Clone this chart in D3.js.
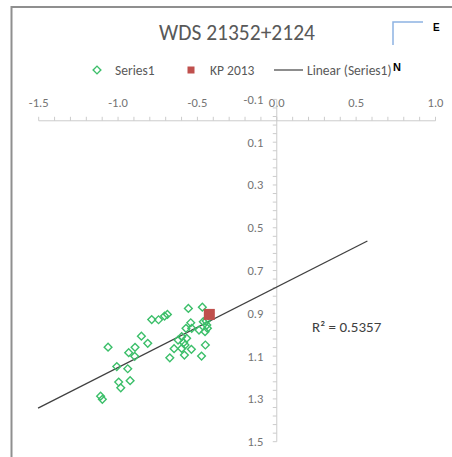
<!DOCTYPE html>
<html>
<head>
<meta charset="utf-8">
<script src="https://cdn.jsdelivr.net/npm/d3@7"></script>
<style>
  html, body { margin: 0; padding: 0; background: #fff; }
  svg { display: block; font-family: Carlito, Lato, sans-serif; }
</style>
</head>
<body>
<div id="chart"></div>
<script>
// Series1 (green diamonds)
var seriesX = [-1.063, -1.008, -0.939, -0.933, -0.893, -0.895, -0.853, -0.813, -0.788, -0.745,
               -0.707, -0.689, -0.996, -0.983, -0.924, -1.110, -1.099, -0.674, -0.647, -0.622,
               -0.599, -0.587, -0.599, -0.582, -0.538, -0.568, -0.578, -0.557, -0.572, -0.542,
               -0.536, -0.490, -0.469, -0.463, -0.441, -0.437, -0.452, -0.450, -0.474, -0.445];
var seriesY = [1.058, 1.149, 1.159, 1.084, 1.059, 1.101, 1.007, 1.040, 0.929, 0.930,
               0.913, 0.905, 1.221, 1.248, 1.215, 1.287, 1.302, 1.108, 1.065, 1.025,
               1.009, 1.037, 1.064, 1.095, 1.068, 1.017, 1.048, 0.877, 0.970, 0.944,
               0.970, 0.978, 0.871, 0.939, 0.955, 0.970, 0.986, 1.048, 1.100, 0.936];
// KP 2013 (red square)
var kpX = [-0.425];
var kpY = [0.905];
// linear trendline ends
var trendX = [-1.504, 0.571];
var trendY = [1.343, 0.562];
var rSquared = '0.5357';

var xTicks = [-1.5, -1.0, -0.5, 0.0, 0.5, 1.0];
var yTicks = [-0.1, 0.1, 0.3, 0.5, 0.7, 0.9, 1.1, 1.3, 1.5];

var width = 452, height = 457;
var green = '#3cbf6a', red = '#c0504d', axisCol = '#cccccc', labelCol = '#737373';

var svg = d3.select('#chart').append('svg')
  .attr('width', width)
  .attr('height', height);

// chart border (right / bottom edges fall outside the picture)
svg.append('rect')
  .attr('x', 11.5).attr('y', 7)
  .attr('width', 460).attr('height', 470)
  .attr('fill', 'none')
  .attr('stroke', '#8f8f8f')
  .attr('stroke-width', 2);

var x = d3.scaleLinear().domain([-1.5, 1.0]).range([38.7, 435.5]);
var y = d3.scaleLinear().domain([-0.1, 1.5]).range([99.4, 441.7]);

// title
svg.append('text')
  .attr('x', 237).attr('y', 40)
  .attr('text-anchor', 'middle')
  .attr('font-size', 21.5)
  .attr('fill', '#595959')
  .text('WDS 21352+2124');

// legend
var lg = svg.append('g').attr('font-size', 13.5).attr('fill', '#595959');
lg.append('path')
  .attr('d', d3.symbol(d3.symbolSquare, 30))
  .attr('transform', 'translate(97,70) rotate(45)')
  .attr('fill', 'none').attr('stroke', green).attr('stroke-width', 1.4);
lg.append('text').attr('x', 115).attr('y', 74.5).text('Series1');
lg.append('rect').attr('x', 187.5).attr('y', 66.5).attr('width', 7).attr('height', 7).attr('fill', red);
lg.append('text').attr('x', 210).attr('y', 74.5).text('KP 2013');
lg.append('line').attr('x1', 274).attr('x2', 303).attr('y1', 70).attr('y2', 70)
  .attr('stroke', '#404040').attr('stroke-width', 1.2);
lg.append('text').attr('x', 307).attr('y', 74.5).text('Linear (Series1)');

// x axis at y = 0, labels above
var x0 = y(0);
var xAxis = svg.append('g').attr('transform', 'translate(0,' + x0 + ')');
xAxis.append('line').attr('x1', x(-1.5)).attr('x2', x(1.0))
  .attr('stroke', axisCol);
xAxis.selectAll('.minor')
  .data(d3.range(-15, 11).map(function(d) { return d / 10; }))
  .enter().append('line')
  .attr('x1', function(d) { return x(d); }).attr('x2', function(d) { return x(d); })
  .attr('y1', -4).attr('y2', 0)
  .attr('stroke', axisCol);
xAxis.selectAll('text')
  .data(xTicks)
  .enter().append('text')
  .attr('x', function(d) { return x(d); })
  .attr('y', -13.5)
  .attr('text-anchor', 'middle')
  .attr('font-size', 12.5)
  .attr('fill', labelCol)
  .text(function(d) { return d.toFixed(1); });

// y axis at x = 0, reversed, labels to the left
var y0 = x(0);
var yAxis = svg.append('g').attr('transform', 'translate(' + y0 + ',0)');
yAxis.append('line').attr('y1', y(-0.1)).attr('y2', y(1.5))
  .attr('stroke', axisCol);
yAxis.selectAll('.minor')
  .data(d3.range(0, 41).map(function(d) { return -0.1 + d * 0.04; }))
  .enter().append('line')
  .attr('y1', function(d) { return y(d); }).attr('y2', function(d) { return y(d); })
  .attr('x1', -4).attr('x2', 0)
  .attr('stroke', axisCol);
yAxis.selectAll('text')
  .data(yTicks)
  .enter().append('text')
  .attr('x', -13.5)
  .attr('y', function(d) { return y(d) + 4.5; })
  .attr('text-anchor', 'end')
  .attr('font-size', 12.5)
  .attr('fill', labelCol)
  .text(function(d) { return d.toFixed(1); });

// trendline
svg.append('line')
  .attr('x1', x(trendX[0])).attr('y1', y(trendY[0]))
  .attr('x2', x(trendX[1])).attr('y2', y(trendY[1]))
  .attr('stroke', '#404040').attr('stroke-width', 1.3);

// Series1 points
svg.append('g').selectAll('path')
  .data(d3.range(seriesX.length))
  .enter().append('path')
  .attr('d', d3.symbol(d3.symbolSquare, 30))
  .attr('transform', function(i) {
    return 'translate(' + x(seriesX[i]) + ',' + y(seriesY[i]) + ') rotate(45)';
  })
  .attr('fill', 'none')
  .attr('stroke', green)
  .attr('stroke-width', 1.4);

// KP 2013
svg.append('g').selectAll('rect')
  .data(d3.range(kpX.length))
  .enter().append('rect')
  .attr('x', function(i) { return x(kpX[i]) - 5.5; })
  .attr('y', function(i) { return y(kpY[i]) - 5.5; })
  .attr('width', 11).attr('height', 11)
  .attr('fill', red);

// R squared label
svg.append('text')
  .attr('x', 312).attr('y', 331.5)
  .attr('font-size', 15)
  .attr('fill', '#404040')
  .text('R\u00b2 = ' + rSquared);

// orientation marker
svg.append('path')
  .attr('d', 'M393,45 V22 H423')
  .attr('fill', 'none')
  .attr('stroke', '#8db3e2')
  .attr('stroke-width', 1.5);
svg.append('text').attr('x', 433).attr('y', 31)
  .attr('font-size', 10).attr('font-weight', 'bold').attr('font-family', 'Liberation Sans, sans-serif')
  .text('E');
svg.append('text').attr('x', 393).attr('y', 71)
  .attr('font-size', 11).attr('font-weight', 'bold').attr('font-family', 'Liberation Sans, sans-serif')
  .text('N');
</script>
</body>
</html>
